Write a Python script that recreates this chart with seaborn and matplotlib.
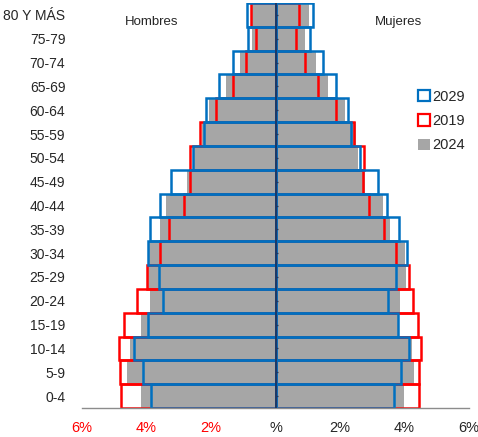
import numpy as np
import pandas as pd
import matplotlib
matplotlib.use("Agg")
import matplotlib.pyplot as plt
import seaborn as sns
from matplotlib.patches import Patch

# age groups, top to bottom
ages = ["80 Y MÁS", "75-79", "70-74", "65-69", "60-64", "55-59", "50-54",
        "45-49", "40-44", "35-39", "30-34", "25-29", "20-24", "15-19",
        "10-14", "5-9", "0-4"]

# percent of total population
men_2024 = [0.74, 0.74, 1.11, 1.55, 2.06, 2.28, 2.53, 2.75, 3.38, 3.59, 3.92,
            3.95, 3.88, 4.16, 4.52, 4.60, 4.16]
men_2019 = [0.77, 0.59, 0.93, 1.32, 1.84, 2.34, 2.65, 2.64, 2.85, 3.30, 3.59,
            4.00, 4.28, 4.71, 4.86, 4.83, 4.78]
men_2029 = [0.89, 0.86, 1.32, 1.76, 2.15, 2.23, 2.55, 3.23, 3.59, 3.88, 3.95,
            3.62, 3.49, 3.95, 4.40, 4.11, 3.85]

women_2024 = [1.03, 0.91, 1.26, 1.63, 2.17, 2.50, 2.56, 2.78, 3.32, 3.56, 4.02,
              4.05, 3.87, 3.84, 4.23, 4.31, 3.97]
women_2019 = [0.74, 0.64, 0.93, 1.31, 1.88, 2.44, 2.73, 2.71, 2.89, 3.37, 3.74,
              4.13, 4.25, 4.42, 4.50, 4.46, 4.46]
women_2029 = [1.16, 1.06, 1.47, 1.88, 2.25, 2.35, 2.61, 3.17, 3.46, 3.84, 4.08,
              3.74, 3.49, 3.80, 4.15, 3.90, 3.66]

xticks = [-6, -4, -2, 0, 2, 4, 6]
xtick_labels = ["6%", "4%", "2%", "%", "2%", "4%", "6%"]

GRAY = "#a6a6a6"
RED = "#ff0000"
BLUE = "#0070c0"

sns.set_style("white")
plt.rcParams["font.family"] = ["Liberation Sans", "DejaVu Sans"]

fig = plt.figure(figsize=(4.78, 4.37), dpi=100)
ax = fig.add_axes([82 / 478, 29 / 437, 387 / 478, 405 / 437])

df = pd.DataFrame({"age": ages,
                   "m24": -np.array(men_2024), "w24": women_2024,
                   "m19": -np.array(men_2019), "w19": women_2019,
                   "m29": -np.array(men_2029), "w29": women_2029})

# 2024 filled
for col in ["m24", "w24"]:
    sns.barplot(data=df, x=col, y="age", order=ages, orient="y", width=1,
                color=GRAY, saturation=1, linewidth=0, ax=ax)
# 2019 and 2029 outlines
for col, c in [("m19", RED), ("w19", RED), ("m29", BLUE), ("w29", BLUE)]:
    sns.barplot(data=df, x=col, y="age", order=ages, orient="y", width=1,
                fill=False, color=c, saturation=1, linewidth=1.8, ax=ax)

ax.set_xlim(-6, 6)
ax.set_ylim(len(ages) - 0.5, -0.5)
ax.set_xlabel("")
ax.set_ylabel("")

# centre axis with small ticks
ax.axvline(0, color="#1f3864", lw=1.4, zorder=5)
ax.hlines(np.arange(len(ages)), 0, 0.09, color="#1f3864", lw=0.9, zorder=5)

for s in ["left", "top", "right"]:
    ax.spines[s].set_visible(False)
ax.spines["bottom"].set_color("#8c8c8c")
ax.spines["bottom"].set_linewidth(1)

ax.set_xticks(xticks)
ax.set_xticklabels(xtick_labels, fontsize=10.5)
for lab in ax.get_xticklabels()[:3]:
    lab.set_color(RED)
ax.tick_params(axis="x", direction="out", length=4, color="#8c8c8c", pad=5)
ax.tick_params(axis="y", length=0, pad=12, labelsize=10)

fig.text(125 / 478, 1 - 22 / 437, "Hombres", fontsize=9.5, va="center")
fig.text(375 / 478, 1 - 22 / 437, "Mujeres", fontsize=9.5, va="center")

handles = [Patch(facecolor="white", edgecolor=BLUE, lw=1.6, label="2029"),
           Patch(facecolor="white", edgecolor=RED, lw=1.6, label="2019"),
           Patch(facecolor=GRAY, edgecolor=GRAY, lw=0, label="2024")]
fig.legend(handles=handles, loc="upper left",
           bbox_to_anchor=(412 / 478, 1 - 84 / 437), frameon=False,
           fontsize=10.5, handlelength=0.8, handleheight=0.8,
           handletextpad=0.2, labelspacing=0.7, borderaxespad=0)

fig.savefig("out.png", dpi=100)
